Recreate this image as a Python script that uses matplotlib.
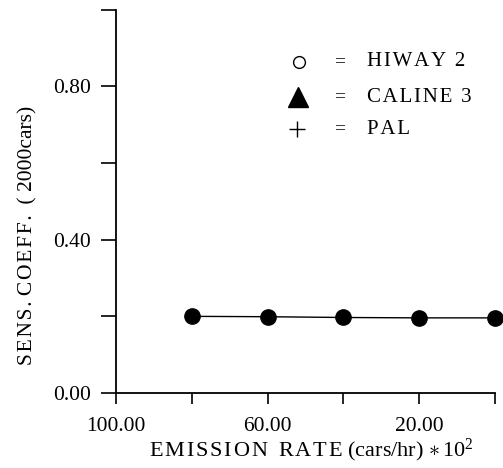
import matplotlib
matplotlib.use("Agg")
import matplotlib.pyplot as plt
from matplotlib.ticker import FixedLocator, NullFormatter

plt.rcParams['font.family'] = ['Liberation Serif', 'DejaVu Serif']
plt.rcParams['mathtext.fontset'] = 'custom'
plt.rcParams['mathtext.rm'] = 'Liberation Serif'
plt.rcParams['mathtext.it'] = 'Liberation Serif'

# emission rate (cars/hr * 10^2) and sensitivity coefficient
emission_rate = [80, 60, 40, 20, 0]
sens_coeff = [0.200, 0.199, 0.197, 0.196, 0.196]

x_labels = ["100.00", "60.00", "20.00"]
x_label_pos = [100, 60, 20]
y_labels = ["0.00", "0.40", "0.80"]
y_label_pos = [0.0, 0.4, 0.8]

legend_symbols = ["o", "^", "+"]
legend_names = ["HIWAY 2", "CALINE 3", "PAL"]

SP = "\u200a"


def spaced(s):
    return SP.join(s)


fig = plt.figure(figsize=(5.03, 4.68), dpi=100)
ax = fig.add_axes([116/503, 1-393/468, (495-116)/503, (393-9.7)/468])

ax.plot(emission_rate, sens_coeff, color='black', lw=1.0,
        marker='o', ms=11, mfc='black', mec='black', clip_on=False)

ax.set_xlim(100, 0)
ax.set_ylim(0, 1.0)

for s in ['top', 'right']:
    ax.spines[s].set_visible(False)
for s in ['left', 'bottom']:
    ax.spines[s].set_linewidth(1.3)

ax.set_xticks(x_label_pos)
ax.set_xticklabels(x_labels, fontsize=15.5)
ax.xaxis.set_minor_locator(FixedLocator([80, 40, 0]))
ax.xaxis.set_minor_formatter(NullFormatter())
ax.set_yticks(y_label_pos)
ax.set_yticklabels(y_labels, fontsize=15.5)
ax.yaxis.set_minor_locator(FixedLocator([0.2, 0.6, 1.0]))
ax.yaxis.set_minor_formatter(NullFormatter())

ax.tick_params(axis='x', which='both', direction='out', length=8, width=1.2, pad=9)
ax.tick_params(axis='y', which='both', direction='out', length=11, width=1.2, pad=7)

ax.set_xlabel(spaced("EMISSION") + "  " + spaced("RATE") + " (cars/hr) $\\ast\\,10^{2}$",
              fontsize=16)
ax.xaxis.label.set_va('center')
ax.xaxis.set_label_coords(0.515, -0.15)
ax.set_ylabel(spaced("SENS.") + " " + spaced("COEFF.") + "  ( 2000cars)", fontsize=15.5)
ax.yaxis.label.set_va('center')
ax.yaxis.set_label_coords(-0.232, 0.412)

# key drawn as text rows
rows_y = [62, 97, 129]
for sym, name, yp in zip(legend_symbols, legend_names, rows_y):
    fy = 1 - yp/468
    if sym == "o":
        fig.lines.append(plt.Line2D([299/503], [fy], marker='o', ms=8.5, mfc='white',
                                    mec='black', mew=1.0, transform=fig.transFigure))
    elif sym == "^":
        fig.lines.append(plt.Line2D([298/503], [fy], marker='^', ms=15, mfc='black',
                                    mec='black', transform=fig.transFigure))
    else:
        fig.lines.append(plt.Line2D([297/503], [fy], marker='+', ms=12, mew=1.0,
                                    color='black', transform=fig.transFigure))
    fig.text(340/503, fy, "=", fontsize=14, ha='center', va='center')
    fig.text(367/503, fy, spaced(name), fontsize=15, ha='left', va='center')

fig.savefig("out.png", dpi=100)
